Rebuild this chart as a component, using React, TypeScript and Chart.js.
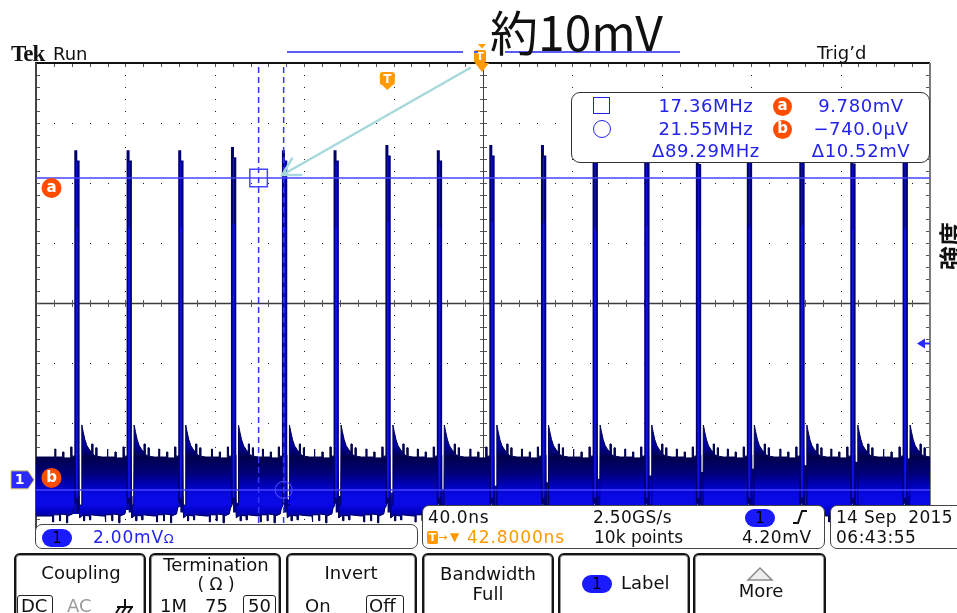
import React, { useEffect, useRef } from 'react';
import { Chart, registerables } from 'chart.js';

Chart.register(...registerables);

// ---------------- data (time in ns relative to trigger, voltage in mV) ----------------
const timeWindowNs = [-157.2, 242.8];
const voltWindowMv = [-2.53, 13.66];

const peakTimesNs = [-139.0, -115.6, -92.5, -68.9, -46.1, -23.0, 0.2, 23.2, 46.7, 69.8, 92.9, 116.0, 139.1, 161.9, 185.4, 208.2, 231.6];
const peakLevelsMv = [10.72, 10.72, 10.72, 10.83, 10.72, 10.72, 10.89, 10.72, 10.89, 10.89, 10.7, 10.8, 10.6, 10.7, 10.78, 10.62, 10.68];

// noise-floor envelope around one pulse (offset from the pulse, level)
const noiseTopOffsetsNs = [-11.3, -9.8, -9.8, -9.4, -9.4, -6.3, -6.3, -5.8, -5.8, -2.7, -2.7, -2.2, -2.2, -0.9, -0.5, 0.9, 1.1, 2.1, 2.3, 2.9, 3.7, 4.6, 5.8, 6.7, 6.7, 7.2, 7.2, 8.5, 8.5, 9.0, 9.0, 11.3];
const noiseTopMv = [0.37, 0.37, 0.64, 0.64, 0.37, 0.37, 0.54, 0.54, 0.34, 0.34, 0.71, 0.71, 0.4, 0.4, 0.44, 0.44, -1.25, -1.25, 1.45, 1.22, 0.95, 0.75, 0.61, 0.54, 0.81, 0.81, 0.47, 0.4, 0.68, 0.68, 0.4, 0.37];
const noiseBottomOffsetsNs = [-11.3, -10.7, -10.7, -10.3, -10.3, -7.6, -7.6, -7.2, -7.2, -4.5, -4.5, -4.0, -4.0, -1.8, -1.3, -0.7, 0, 1.0, 1.3, 3.1, 3.1, 3.6, 3.6, 5.8, 5.8, 6.3, 6.3, 11.3];
const noiseBottomMv = [-1.62, -1.62, -1.82, -1.82, -1.58, -1.58, -1.78, -1.78, -1.55, -1.58, -1.85, -1.85, -1.62, -1.55, -1.35, -1.28, -1.08, -0.95, -1.68, -1.58, -1.78, -1.78, -1.6, -1.62, -1.75, -1.75, -1.58, -1.62];
const noiseTopRestMv = 0.37;
const noiseBottomRestMv = -1.62;

const cursorTimesNs = [-57.6, -46.4];
const cursorLevelsMv = [9.78, -0.74];
const triggerTimeNs = 0;
const triggerLevelMv = 4.2;
const channelGroundMv = -0.4;

const cursorFreqLabels = ['17.36MHz', '21.55MHz', 'Δ89.29MHz'];
const cursorVoltLabels = ['9.780mV', '−740.0µV', 'Δ10.52mV'];

// ---------------- build series ----------------
function envelope(offsets: number[], values: number[], rest: number) {
  const pts: { x: number; y: number }[] = [{ x: timeWindowNs[0], y: rest }];
  peakTimesNs.forEach((t) => {
    offsets.forEach((dt, i) => pts.push({ x: t + dt, y: values[i] }));
  });
  pts.push({ x: timeWindowNs[1], y: rest });
  return pts;
}

function spikes(dt: number, base: number, drop: number) {
  const pts: { x: number; y: number | null }[] = [];
  peakTimesNs.forEach((t, i) => {
    pts.push({ x: t + dt, y: base }, { x: t + dt, y: peakLevelsMv[i] - drop }, { x: t + dt, y: null });
  });
  return pts;
}

const SANS = '"DejaVu Sans", Verdana, sans-serif';
const CURSOR_BLUE = '#4545ff';

const graticule = {
  id: 'graticule',
  beforeDatasetsDraw(chart: any) {
    const { ctx, chartArea: a } = chart;
    const W = a.right - a.left;
    const H = a.bottom - a.top;
    const dx = W / 10;
    const dy = H / 8;
    ctx.save();
    ctx.fillStyle = '#1a1a1a';
    for (let i = 1; i < 10; i++) {
      if (i === 5) continue;
      const x = Math.round(a.left + i * dx);
      for (let k = 1; k < 40; k++) ctx.fillRect(x, Math.round(a.top + (k * dy) / 5), 1, 1);
    }
    for (let j = 1; j < 8; j++) {
      if (j === 4) continue;
      const y = Math.round(a.top + j * dy);
      for (let k = 1; k < 50; k++) ctx.fillRect(Math.round(a.left + (k * dx) / 5), y, 1, 1);
    }
    const line = (x1: number, y1: number, x2: number, y2: number) => {
      ctx.beginPath();
      ctx.moveTo(x1, y1);
      ctx.lineTo(x2, y2);
      ctx.stroke();
    };
    const cx = Math.round(a.left + 5 * dx) + 0.5;
    const cy = Math.round(a.top + 4 * dy) + 0.5;
    ctx.strokeStyle = '#3c3c3c';
    ctx.lineWidth = 1;
    line(cx, a.top, cx, a.bottom);
    ctx.lineWidth = 1.5;
    line(a.left, cy, a.right, cy);
    ctx.lineWidth = 1;
    ctx.strokeStyle = '#555';
    for (let k = 1; k < 50; k++) {
      const x = Math.round(a.left + (k * dx) / 5) + 0.5;
      line(x, cy - 3.5, x, cy + 3.5);
      line(x, a.top, x, a.top + 4);
    }
    for (let k = 1; k < 40; k++) {
      const y = Math.round(a.top + (k * dy) / 5) + 0.5;
      line(cx - 3.5, y, cx + 3.5, y);
      line(a.left, y, a.left + 4, y);
      line(a.right - 4, y, a.right, y);
    }
    ctx.strokeStyle = '#111';
    ctx.lineWidth = 2;
    line(a.left - 1, a.top, a.right, a.top);
    ctx.strokeStyle = '#444';
    line(a.left, a.top, a.left, a.bottom);
    ctx.strokeStyle = '#7a7a7a';
    line(a.right, a.top, a.right, a.bottom);
    ctx.restore();
  },
};

const overlay = {
  id: 'scopeOverlay',
  afterDraw(chart: any) {
    const { ctx, chartArea: a, scales } = chart;
    const xs = scales.x;
    const ys = scales.y;
    const yA = ys.getPixelForValue(cursorLevelsMv[0]);
    const yB = ys.getPixelForValue(cursorLevelsMv[1]);
    ctx.save();

    const badge = (x: number, y: number, t: string) => {
      ctx.beginPath();
      ctx.arc(x, y, 10, 0, Math.PI * 2);
      ctx.fillStyle = '#ff4d00';
      ctx.fill();
      ctx.fillStyle = '#fff';
      ctx.font = `bold 15px ${SANS}`;
      ctx.textAlign = 'center';
      ctx.textBaseline = 'middle';
      ctx.fillText(t, x, y);
    };
    badge(a.left + 15.5, yA + 10, 'a');
    badge(a.left + 15.5, yB - 12, 'b');

    // channel ground marker
    const yc = ys.getPixelForValue(channelGroundMv);
    ctx.beginPath();
    ctx.moveTo(11, yc - 9);
    ctx.lineTo(28, yc - 9);
    ctx.lineTo(34, yc);
    ctx.lineTo(28, yc + 9);
    ctx.lineTo(11, yc + 9);
    ctx.closePath();
    ctx.fillStyle = '#2a2aff';
    ctx.fill();
    ctx.strokeStyle = '#d9c766';
    ctx.lineWidth = 1;
    ctx.stroke();
    ctx.fillStyle = '#fff';
    ctx.font = `bold 14px ${SANS}`;
    ctx.textAlign = 'center';
    ctx.textBaseline = 'middle';
    ctx.fillText('1', 19.5, yc + 1);

    // trigger level arrow (right edge)
    const yt = ys.getPixelForValue(triggerLevelMv);
    ctx.fillStyle = '#2a2aff';
    ctx.beginPath();
    ctx.moveTo(a.right - 13, yt);
    ctx.lineTo(a.right - 5, yt - 5);
    ctx.lineTo(a.right - 5, yt + 5);
    ctx.closePath();
    ctx.fill();
    ctx.strokeStyle = '#2a2aff';
    ctx.lineWidth = 2;
    ctx.beginPath();
    ctx.moveTo(a.right - 7, yt);
    ctx.lineTo(a.right, yt);
    ctx.stroke();

    // trigger point badge
    const xt = xs.getPixelForValue(triggerTimeNs);
    ctx.fillStyle = '#ff9a00';
    ctx.beginPath();
    ctx.roundRect(xt - 7.5, 72, 15, 13, 3);
    ctx.fill();
    ctx.beginPath();
    ctx.moveTo(xt - 7.5, 83);
    ctx.lineTo(xt + 7.5, 83);
    ctx.lineTo(xt, 90);
    ctx.closePath();
    ctx.fill();
    ctx.fillStyle = '#fff';
    ctx.font = `bold 12px ${SANS}`;
    ctx.fillText('T', xt, 79.5);

    // horizontal position marker at top centre
    const xc = (a.left + a.right) / 2 - 1;
    ctx.fillStyle = '#ff9a00';
    ctx.beginPath();
    ctx.moveTo(xc - 4, 44);
    ctx.lineTo(xc + 4, 44);
    ctx.lineTo(xc, 48.5);
    ctx.closePath();
    ctx.fill();
    ctx.beginPath();
    ctx.roundRect(xc - 8, 50, 12, 13, 2);
    ctx.fill();
    ctx.beginPath();
    ctx.moveTo(xc - 7, a.top);
    ctx.lineTo(xc + 7, a.top);
    ctx.lineTo(xc, a.top + 9);
    ctx.closePath();
    ctx.fill();
    ctx.fillStyle = '#fff';
    ctx.font = `bold 11px ${SANS}`;
    ctx.fillText('T', xc - 2, 57);

    // annotation underline
    ctx.strokeStyle = '#5b5bf6';
    ctx.lineWidth = 2;
    [[287, 463], [474, 478], [505, 680]].forEach(([x1, x2]) => {
      ctx.beginPath();
      ctx.moveTo(x1, 52);
      ctx.lineTo(x2, 52);
      ctx.stroke();
    });

    // annotation arrow
    const tipX = xs.getPixelForValue(peakTimesNs[4]) - 2;
    const tipY = yA - 3;
    const sx = xc - 12;
    const sy = a.top + 5;
    const ang = Math.atan2(sy - tipY, sx - tipX);
    ctx.strokeStyle = '#a7d8dc';
    ctx.lineWidth = 2.5;
    ctx.lineCap = 'round';
    ctx.beginPath();
    ctx.moveTo(sx, sy);
    ctx.lineTo(tipX, tipY);
    ctx.moveTo(tipX + 19 * Math.cos(ang - 0.52), tipY + 19 * Math.sin(ang - 0.52));
    ctx.lineTo(tipX, tipY);
    ctx.lineTo(tipX + 19 * Math.cos(ang + 0.52), tipY + 19 * Math.sin(ang + 0.52));
    ctx.stroke();
    ctx.restore();
  },
};

function bandGradient(context: any) {
  const chart = context.chart;
  if (!chart.chartArea) return '#00007a';
  const ys = chart.scales.y;
  const g = chart.ctx.createLinearGradient(0, ys.getPixelForValue(0.75), 0, ys.getPixelForValue(-1.85));
  g.addColorStop(0, '#0000a0');
  g.addColorStop(0.15, '#00004c');
  g.addColorStop(0.35, '#000078');
  g.addColorStop(0.5, '#0000b4');
  g.addColorStop(0.62, '#0808e2');
  g.addColorStop(0.76, '#0a0ae6');
  g.addColorStop(0.86, '#0000c0');
  g.addColorStop(0.94, '#000090');
  g.addColorStop(1, '#00005a');
  return g;
}

function Label(props: any) {
  const { x, y, size = 17, color = '#111', align = 'left', children, font = SANS, weight = 400, ls = 0, asc = 0.846 } = props;
  const style: any = {
    position: 'absolute',
    top: y - asc * size,
    fontFamily: font,
    fontSize: size,
    lineHeight: 1,
    color,
    fontWeight: weight,
    letterSpacing: ls,
    whiteSpace: 'pre',
  };
  if (align === 'center') {
    style.left = x - 150;
    style.width = 300;
    style.textAlign = 'center';
  } else {
    style.left = x;
  }
  return <div style={style}>{children}</div>;
}

function Box(props: any) {
  const { x, y, w, h, r = 7, border = '1.5px solid #3a3a3a', bg = '#fff', shadow } = props;
  return (
    <div
      style={{
        position: 'absolute', left: x, top: y, width: w, height: h, boxSizing: 'border-box',
        border, borderRadius: r, background: bg, boxShadow: shadow,
      }}
    />
  );
}

function Pill(props: any) {
  const { x, y } = props;
  return (
    <div
      style={{
        position: 'absolute', left: x, top: y, width: 30, height: 18, borderRadius: 9, background: '#1a1aff',
        color: '#000', fontFamily: SANS, fontSize: 15, lineHeight: '18px', textAlign: 'center',
      }}
    >
      1
    </div>
  );
}

function Badge(props: any) {
  const { x, y, t } = props;
  return (
    <div
      style={{
        position: 'absolute', left: x, top: y, width: 19, height: 19, borderRadius: '50%', background: '#ff4d00',
        color: '#fff', fontFamily: SANS, fontWeight: 700, fontSize: 15, lineHeight: '17px', textAlign: 'center',
      }}
    >
      {t}
    </div>
  );
}

export default function App() {
  const ref = useRef<HTMLCanvasElement>(null);
  useEffect(() => {
    const chart = new Chart(ref.current as HTMLCanvasElement, {
      type: 'line',
      data: {
        datasets: [
          {
            label: 'cursor square',
            data: [{ x: cursorTimesNs[0], y: cursorLevelsMv[0] }],
            showLine: false, pointStyle: 'rect', pointRadius: 12.4, pointBorderWidth: 1.5,
            pointBorderColor: CURSOR_BLUE, pointBackgroundColor: 'rgba(0,0,0,0)', order: 0,
          } as any,
          {
            label: 'cursor circle',
            data: [{ x: cursorTimesNs[1], y: cursorLevelsMv[1] }],
            showLine: false, pointStyle: 'circle', pointRadius: 8.5, pointBorderWidth: 1.2,
            pointBorderColor: CURSOR_BLUE, pointBackgroundColor: 'rgba(0,0,0,0)', order: 0,
          },
          {
            label: 'cursor a',
            data: [{ x: timeWindowNs[0], y: cursorLevelsMv[0] }, { x: timeWindowNs[1], y: cursorLevelsMv[0] }],
            borderColor: CURSOR_BLUE, borderWidth: 1.6, pointRadius: 0, order: 1,
          },
          {
            label: 'cursor b',
            data: [{ x: timeWindowNs[0], y: cursorLevelsMv[1] }, { x: timeWindowNs[1], y: cursorLevelsMv[1] }],
            borderColor: CURSOR_BLUE, borderWidth: 1.6, pointRadius: 0, order: 1,
          },
          ...cursorTimesNs.map((t) => ({
            label: 'time cursor',
            data: [{ x: t, y: voltWindowMv[0] }, { x: t, y: voltWindowMv[1] }],
            borderColor: '#3434ff', borderWidth: 1.5, borderDash: [6, 4], pointRadius: 0, order: 2,
          })),
          {
            label: 'pulse core fine',
            data: spikes(0.05, -1.0, 0.4),
            borderColor: '#1414e6', borderWidth: 1, pointRadius: 0, spanGaps: false, order: 4,
          },
          {
            label: 'pulse core',
            data: spikes(0.1, -1.0, 2.6),
            borderColor: '#0c0cf0', borderWidth: 2, pointRadius: 0, spanGaps: false, order: 5,
          },
          {
            label: 'pulse right',
            data: spikes(0.6, -1.5, 0.35),
            borderColor: '#00007c', borderWidth: 3.2, pointRadius: 0, spanGaps: false, order: 6,
          },
          {
            label: 'pulse left',
            data: spikes(-0.4, -1.2, 0),
            borderColor: '#00006c', borderWidth: 3, pointRadius: 0, spanGaps: false, order: 7,
          },
          {
            label: 'noise top',
            data: envelope(noiseTopOffsetsNs, noiseTopMv, noiseTopRestMv),
            borderColor: '#000050', borderWidth: 1, pointRadius: 0, fill: '+1',
            backgroundColor: bandGradient, order: 10,
          },
          {
            label: 'noise bottom',
            data: envelope(noiseBottomOffsetsNs, noiseBottomMv, noiseBottomRestMv),
            borderColor: '#00005c', borderWidth: 1, pointRadius: 0, fill: false, order: 9,
          },
        ],
      },
      options: {
        responsive: false,
        maintainAspectRatio: false,
        animation: false,
        events: [],
        layout: { padding: { left: 36, top: 63, right: 27, bottom: 70 } },
        elements: { line: { tension: 0 }, point: { radius: 0 } },
        scales: {
          x: { type: 'linear', min: timeWindowNs[0], max: timeWindowNs[1], display: false },
          y: { type: 'linear', min: voltWindowMv[0], max: voltWindowMv[1], display: false },
        },
        plugins: { legend: { display: false }, tooltip: { enabled: false } },
      },
      plugins: [graticule, overlay],
    });
    return () => chart.destroy();
  }, []);

  const BLUE_TXT = '#2323ee';
  const btnShadow = 'inset 0 0 0 1px #9a9a9a';

  return (
    <div style={{ position: 'absolute', left: 0, top: 0, width: 957, height: 613, overflow: 'hidden', background: '#fff' }}>
      <canvas ref={ref} width={957} height={613} style={{ position: 'absolute', left: 0, top: 0 }} />

      {/* header */}
      <Label x={11} y={61} size={23} font='"Liberation Serif", serif' weight={700} ls={-1} asc={0.837}>Tek</Label>
      <Label x={53} y={60} size={18}>Run</Label>
      <Label x={817} y={59} size={18}>Trig’d</Label>
      <Label x={490} y={48} size={48} font='"Noto Sans CJK JP", sans-serif' asc={0.88} color="#111">約10mV</Label>

      {/* y-axis title (cut at the right edge) */}
      <div
        style={{
          position: 'absolute', left: 920, top: 234, width: 60, height: 24, transform: 'rotate(-90deg)',
          fontFamily: '"Noto Sans CJK JP", sans-serif', fontWeight: 700, fontSize: 24, lineHeight: '24px',
          textAlign: 'center', color: '#111',
        }}
      >
        強度
      </div>

      {/* cursor readout */}
      <Box x={571} y={92} w={359} h={71} r={9} border="1.5px solid #333" />
      <div style={{ position: 'absolute', left: 593, top: 97, width: 17, height: 17, boxSizing: 'border-box', border: `1.5px solid ${BLUE_TXT}` }} />
      <div style={{ position: 'absolute', left: 593, top: 120, width: 18, height: 18, boxSizing: 'border-box', border: `1.5px solid ${BLUE_TXT}`, borderRadius: '50%' }} />
      <Badge x={773} y={97} t="a" />
      <Badge x={773} y={120} t="b" />
      <Label x={706} y={112} size={18} ls={0.6} color={BLUE_TXT} align="center">{cursorFreqLabels[0]}</Label>
      <Label x={706} y={135} size={18} ls={0.6} color={BLUE_TXT} align="center">{cursorFreqLabels[1]}</Label>
      <Label x={706} y={157} size={18} ls={0.6} color={BLUE_TXT} align="center">{cursorFreqLabels[2]}</Label>
      <Label x={861} y={112} size={18} ls={0.6} color={BLUE_TXT} align="center">{cursorVoltLabels[0]}</Label>
      <Label x={861} y={135} size={18} ls={0.6} color={BLUE_TXT} align="center">{cursorVoltLabels[1]}</Label>
      <Label x={861} y={157} size={18} ls={0.6} color={BLUE_TXT} align="center">{cursorVoltLabels[2]}</Label>

      {/* channel readout */}
      <Box x={35} y={524} w={383} h={25} r={7} border="1.5px solid #444" />
      <Pill x={42} y={529} />
      <Label x={93} y={543} size={17} ls={0.8} color={BLUE_TXT}>2.00mV<span style={{ fontSize: 13, letterSpacing: 0 }}>Ω</span></Label>

      {/* timebase / trigger readout */}
      <Box x={422} y={505} w={403} h={44} r={7} border="1.5px solid #444" />
      <Label x={428} y={523} size={17} ls={0.6}>40.0ns</Label>
      <Label x={593} y={523} size={17} ls={0.3}>2.50GS/s</Label>
      <Pill x={745} y={509} />
      <svg style={{ position: 'absolute', left: 790, top: 508, width: 20, height: 18 }}>
        <polyline points="3,15 8,15 12,3 17,3" fill="none" stroke="#111" strokeWidth="2" />
      </svg>
      <div style={{ position: 'absolute', left: 427, top: 531, width: 11, height: 13, borderRadius: 2, background: '#ff9a00', color: '#fff', fontFamily: SANS, fontWeight: 700, fontSize: 11, lineHeight: '13px', textAlign: 'center' }}>T</div>
      <Label x={438} y={541} size={11} color="#ff9900">→</Label>
      <Label x={450} y={541} size={12} color="#ff9900">▼</Label>
      <Label x={467} y={543} size={17} ls={0.9} color="#ff9900">42.8000ns</Label>
      <Label x={594} y={543} size={17}>10k points</Label>
      <Label x={742} y={543} size={17} ls={0.6}>4.20mV</Label>

      {/* date */}
      <Box x={830} y={505} w={140} h={44} r={7} border="1.5px solid #444" />
      <Label x={836} y={523} size={17} ls={0.3}>{'14 Sep  2015'}</Label>
      <Label x={836} y={543} size={17} ls={0.5}>06:43:55</Label>

      {/* side-menu buttons */}
      {[[14, 132], [149, 132], [286, 131], [422, 132], [558, 132], [693, 133]].map(([x, w], i) => (
        <Box key={i} x={x} y={553} w={w} h={70} r={6} border="2px solid #151515" shadow={btnShadow} />
      ))}
      <Label x={81} y={579} size={18} align="center">Coupling</Label>
      <Box x={17} y={595} w={36} h={20} r={3} border="1.5px solid #222" bg="transparent" />
      <Label x={21} y={612} size={18}>DC</Label>
      <Label x={67} y={612} size={18} color="#9a9a9a">AC</Label>
      <svg style={{ position: 'absolute', left: 112, top: 598, width: 24, height: 16 }}>
        <path d="M13 1 L13 9 M5 9 L21 9 M8 9 L4 15 M14 9 L10 15 M20 9 L16 15" fill="none" stroke="#111" strokeWidth="2" />
      </svg>
      <Label x={216} y={571.5} size={18} align="center">Termination</Label>
      <Label x={216} y={590} size={17} align="center">( Ω )</Label>
      <Label x={160} y={612} size={18}>1M</Label>
      <Label x={205} y={612} size={18}>75</Label>
      <Box x={243} y={595} w={33} h={20} r={3} border="1.5px solid #222" bg="transparent" />
      <Label x={248} y={612} size={18}>50</Label>
      <Label x={351} y={579} size={18} align="center">Invert</Label>
      <Label x={305} y={612} size={18}>On</Label>
      <Box x={366} y={595} w={38} h={20} r={3} border="1.5px solid #222" bg="transparent" />
      <Label x={369} y={612} size={18}>Off</Label>
      <Label x={488} y={580} size={18} align="center">Bandwidth</Label>
      <Label x={488} y={600} size={18} align="center">Full</Label>
      <Pill x={582} y={575} />
      <Label x={621} y={589} size={18}>Label</Label>
      <svg style={{ position: 'absolute', left: 746, top: 565, width: 28, height: 17 }}>
        <polygon points="2,15 14,3 26,15" fill="#eeeeee" stroke="#8a8a8a" strokeWidth="1.5" />
      </svg>
      <Label x={761} y={597} size={18} align="center">More</Label>
    </div>
  );
}
